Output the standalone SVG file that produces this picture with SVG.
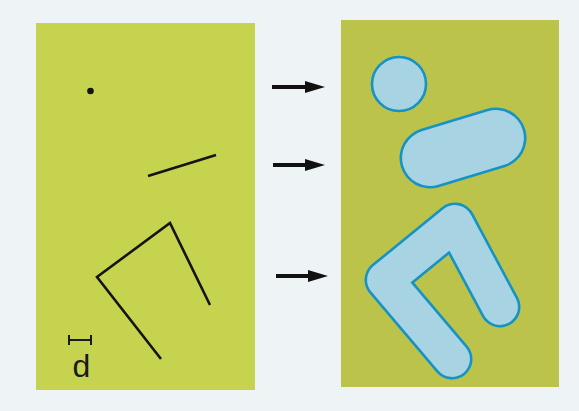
<svg xmlns="http://www.w3.org/2000/svg" width="579" height="411" viewBox="0 0 579 411">
  <style>
    .src { fill: none; stroke: #141414; stroke-width: 2.6; stroke-linecap: butt; stroke-linejoin: miter; }
    .edge { fill: none; stroke: #1593c4; stroke-linecap: round; stroke-linejoin: round; }
    .body { fill: none; stroke: #a8d3e2; stroke-linecap: round; stroke-linejoin: round; }
    .arrow { stroke: #111; stroke-width: 4; fill: none; }
    .lbl { font-family: "Liberation Sans", Arial, sans-serif; font-size: 32px; fill: #1a1a1a; }
  </style>
  <defs>
    <marker id="ah" markerWidth="20" markerHeight="12" refX="1" refY="6" orient="auto" markerUnits="userSpaceOnUse" viewBox="0 0 20 12">
      <path d="M0,0 L20,6 L0,12 Z" fill="#111"/>
    </marker>
  </defs>
  <rect x="0" y="0" width="579" height="411" fill="#eef4f6"/>

  <g id="panel-left">
    <rect x="36" y="23" width="219" height="367" fill="#c6d34f"/>
  </g>
  <g id="panel-right">
    <rect x="341" y="20" width="218" height="367" fill="#bcc34a"/>
  </g>

  <g id="point">
    <circle cx="90.5" cy="91" r="3.3" fill="#141414"/>
  </g>
  <g id="segment">
    <line class="src" x1="148" y1="176" x2="216" y2="155"/>
  </g>
  <g id="polyline">
    <polyline class="src" points="161,359 97,277 170,223 210,305"/>
  </g>
  <g id="scale-d">
    <path d="M69,340 H91 M69,335 V345 M91,335 V345" stroke="#1a1a1a" stroke-width="2" fill="none"/>
    <text class="lbl" x="72.5" y="377">d</text>
  </g>

  <g id="disk">
    <circle cx="399" cy="84" r="27" fill="#a8d3e2" stroke="#1593c4" stroke-width="2.6"/>
  </g>
  <g id="capsule">
    <line class="edge" x1="430" y1="158" x2="496" y2="138" stroke-width="61"/>
    <line class="body" x1="430" y1="158" x2="496" y2="138" stroke-width="55.8"/>
  </g>
  <g id="buffered-polyline">
    <polyline class="edge" points="452,359 385,280 455,223 500,307" stroke-width="41"/>
    <polyline class="body" points="452,359 385,280 455,223 500,307" stroke-width="35.8"/>
  </g>

  <g id="connectors">
    <line class="arrow" x1="272" y1="87" x2="306" y2="87" marker-end="url(#ah)"/>
    <line class="arrow" x1="273" y1="165" x2="306" y2="165" marker-end="url(#ah)"/>
    <line class="arrow" x1="276" y1="276" x2="309" y2="276" marker-end="url(#ah)"/>
  </g>
</svg>
